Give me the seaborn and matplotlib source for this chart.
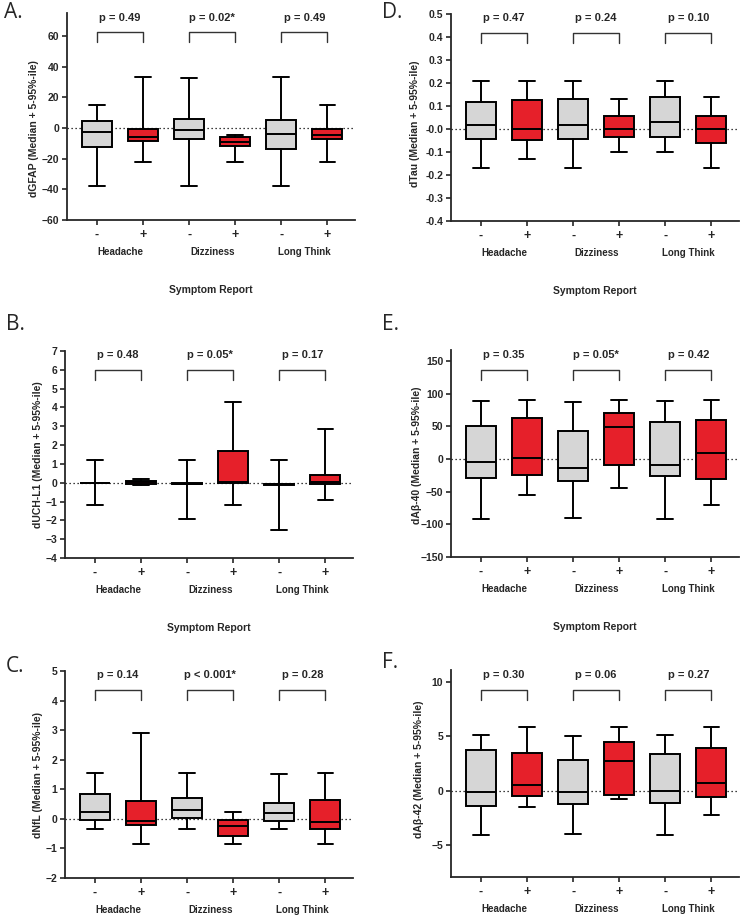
import numpy as np
import matplotlib.pyplot as plt
import matplotlib.transforms as mtransforms
import seaborn as sns

groups = ['Headache', 'Dizziness', 'Long Think']
signs = ['-', '+']

# one row per box (symptom -/+ for each group): [5th pct, Q1, median, Q3, 95th pct]
gfap = [[-37.5, -12.2, -2.6, 4.6, 14.8],
        [-22.4, -8.3, -5.6, -0.8, 33.5],
        [-37.5, -7.4, -1.5, 5.9, 32.8],
        [-22.4, -11.5, -8.9, -5.9, -4.3],
        [-37.5, -13.9, -3.9, 5.2, 33.5],
        [-22.4, -7.4, -4.3, -0.9, 14.8]]
tau = [[-0.17, -0.042, 0.016, 0.116, 0.21],
       [-0.13, -0.049, 0.0, 0.128, 0.21],
       [-0.17, -0.044, 0.016, 0.132, 0.21],
       [-0.10, -0.033, 0.0, 0.057, 0.13],
       [-0.10, -0.036, 0.029, 0.138, 0.21],
       [-0.17, -0.061, 0.0, 0.057, 0.14]]
uchl1 = [[-1.19, -0.04, -0.02, 0.0, 1.19],
         [-0.10, -0.07, 0.04, 0.10, 0.19],
         [-1.95, -0.08, -0.05, -0.03, 1.19],
         [-1.19, 0.0, 0.03, 1.70, 4.27],
         [-2.53, -0.10, -0.08, -0.05, 1.19],
         [-0.94, -0.09, 0.04, 0.39, 2.87]]
abeta40 = [[-91.6, -29.0, -4.6, 50.9, 89.0],
           [-55.0, -25.0, 1.0, 63.0, 91.0],
           [-91.0, -33.6, -13.7, 43.0, 88.0],
           [-44.0, -9.7, 49.0, 70.0, 91.0],
           [-91.6, -25.4, -9.2, 57.0, 89.0],
           [-70.7, -30.0, 9.7, 59.5, 91.0]]
nfl = [[-0.34, -0.03, 0.22, 0.83, 1.54],
       [-0.84, -0.22, -0.07, 0.61, 2.92],
       [-0.34, 0.02, 0.30, 0.70, 1.54],
       [-0.84, -0.57, -0.24, -0.03, 0.22],
       [-0.34, -0.07, 0.21, 0.55, 1.52],
       [-0.84, -0.34, -0.09, 0.63, 1.54]]
abeta42 = [[-4.0, -1.4, -0.09, 3.73, 5.1],
           [-1.47, -0.49, 0.58, 3.52, 5.84],
           [-3.94, -1.22, -0.09, 2.84, 5.08],
           [-0.76, -0.37, 2.72, 4.5, 5.84],
           [-4.0, -1.07, 0.0, 3.36, 5.1],
           [-2.23, -0.58, 0.70, 3.91, 5.84]]

p_gfap = ['p = 0.49', 'p = 0.02*', 'p = 0.49']
p_tau = ['p = 0.47', 'p = 0.24', 'p = 0.10']
p_uchl1 = ['p = 0.48', 'p = 0.05*', 'p = 0.17']
p_abeta40 = ['p = 0.35', 'p = 0.05*', 'p = 0.42']
p_nfl = ['p = 0.14', 'p < 0.001*', 'p = 0.28']
p_abeta42 = ['p = 0.30', 'p = 0.06', 'p = 0.27']

sns.set_style('ticks')
plt.rcParams['font.family'] = ['Liberation Sans', 'DejaVu Sans']

grey = '#d6d6d6'
red = '#e6202a'

fig = plt.figure(figsize=(7.45, 9.19), dpi=100)
W, H = 745, 919
ax_w, ax_h = 288 / W, 207 / H

# letter, data, pvals, ylabel, ylim, yticks, tick format, (bracket top, leg bottom, text y),
# left px, bottom px, ylabel x, ylabel y, show xlabel, letter position px
panels = [
    ('A.', gfap, p_gfap, 'dGFAP (Median + 5-95%-ile)', (-60, 75), [-60, -40, -20, 0, 20, 40, 60], None,
     (62.8, 56.3, 72.0), 67, 220, -0.097, 0.444, True, (4, 13)),
    ('D.', tau, p_tau, 'dTau (Median + 5-95%-ile)', (-0.4, 0.5), list(np.round(np.arange(-0.4, 0.51, 0.1), 1)), '%.1f',
     (0.418, 0.374, 0.483), 451, 221, -0.108, 0.47, True, (382, 13)),
    ('B.', uchl1, p_uchl1, 'dUCH-L1 (Median + 5-95%-ile)', (-4, 7), list(range(-4, 8)), None,
     (5.97, 5.44, 6.77), 65, 558, -0.076, 0.5, True, (6, 325)),
    ('E.', abeta40, p_abeta40, 'dA\u03b2-40 (Median + 5-95%-ile)', (-150, 167), [-150, -100, -50, 0, 50, 100, 150], None,
     (137, 121, 159), 451, 557, -0.10, 0.49, True, (382, 325)),
    ('C.', nfl, p_nfl, 'dNfL (Median + 5-95%-ile)', (-2, 5), list(range(-2, 6)), None,
     (4.35, 4.02, 4.86), 65, 878, -0.076, 0.5, False, (6, 667)),
    ('F.', abeta42, p_abeta42, 'dA\u03b2-42 (Median + 5-95%-ile)', (-7.9, 11.1), [-5, 0, 5, 10], None,
     (9.3, 8.38, 10.6), 451, 877, -0.094, 0.52, False, (382, 662)),
]

for (letter, rows, pvals, ylabel, ylim, yticks, fmt, brk, left_px, bottom_px,
     lab_x, lab_y, show_xlabel, letter_pos) in panels:
    ax = fig.add_axes([left_px / W, 1 - bottom_px / H, ax_w, ax_h])
    stats = [dict(whislo=r[0], q1=r[1], med=r[2], q3=r[3], whishi=r[4], fliers=[]) for r in rows]
    bp = ax.bxp(stats, positions=range(6), widths=0.65, capwidths=0.34, patch_artist=True,
                showfliers=False, manage_ticks=False,
                boxprops=dict(linewidth=1.4, edgecolor='black'),
                medianprops=dict(color='black', linewidth=1.4),
                whiskerprops=dict(color='black', linewidth=1.4),
                capprops=dict(color='black', linewidth=1.4))
    for i, patch in enumerate(bp['boxes']):
        patch.set_facecolor(grey if i % 2 == 0 else red)
        patch.set_zorder(3)
    for key in ['medians', 'whiskers', 'caps']:
        for ln in bp[key]:
            ln.set_zorder(3)

    ax.axhline(0, color='black', linestyle=(0, (1, 2.2)), linewidth=0.9, zorder=1)

    ax.set_xlim(-0.65, 5.6)
    ax.set_ylim(*ylim)
    ax.set_xticks(range(6))
    ax.set_xticklabels(signs * 3, fontsize=9, fontweight='bold')
    ax.set_yticks(yticks)
    if fmt:
        ax.set_yticklabels([fmt % v for v in yticks])
    for t in ax.get_yticklabels():
        t.set_fontsize(7.5)
        t.set_fontweight('bold')
    ax.tick_params(axis='both', direction='out', length=3.5, width=1.2, pad=2)
    ax.tick_params(axis='x', pad=3)
    for s in ['left', 'bottom']:
        ax.spines[s].set_linewidth(1.3)
    sns.despine(ax=ax)

    ax.set_ylabel(ylabel, fontsize=7.5, fontweight='bold')
    ax.yaxis.set_label_coords(lab_x, lab_y)

    # group names under the -/+ ticks
    trans = mtransforms.blended_transform_factory(ax.transData, ax.transAxes)
    for g, name in enumerate(groups):
        ax.text(2 * g + 0.5, -32 / 207, name, transform=trans, ha='center', va='center',
                fontsize=7, fontweight='bold')

    if show_xlabel:
        ax.text(0.5, -70 / 207, 'Symptom Report', transform=ax.transAxes, ha='center',
                va='center', fontsize=7.5, fontweight='bold')

    # significance brackets
    top, leg, ty = brk
    for g, p in enumerate(pvals):
        x0, x1 = 2 * g, 2 * g + 1
        ax.plot([x0, x0, x1, x1], [leg, top, top, leg], color='#333333', linewidth=1.0,
                clip_on=False, zorder=2)
        ax.text((x0 + x1) / 2, ty, p, ha='center', va='center', fontsize=8,
                fontweight='bold', clip_on=False)

    fig.text(letter_pos[0] / W, 1 - letter_pos[1] / H, letter, ha='left', va='center',
             fontsize=15, family=['Open Sans', 'DejaVu Sans'])

fig.savefig('out.png', dpi=100)
